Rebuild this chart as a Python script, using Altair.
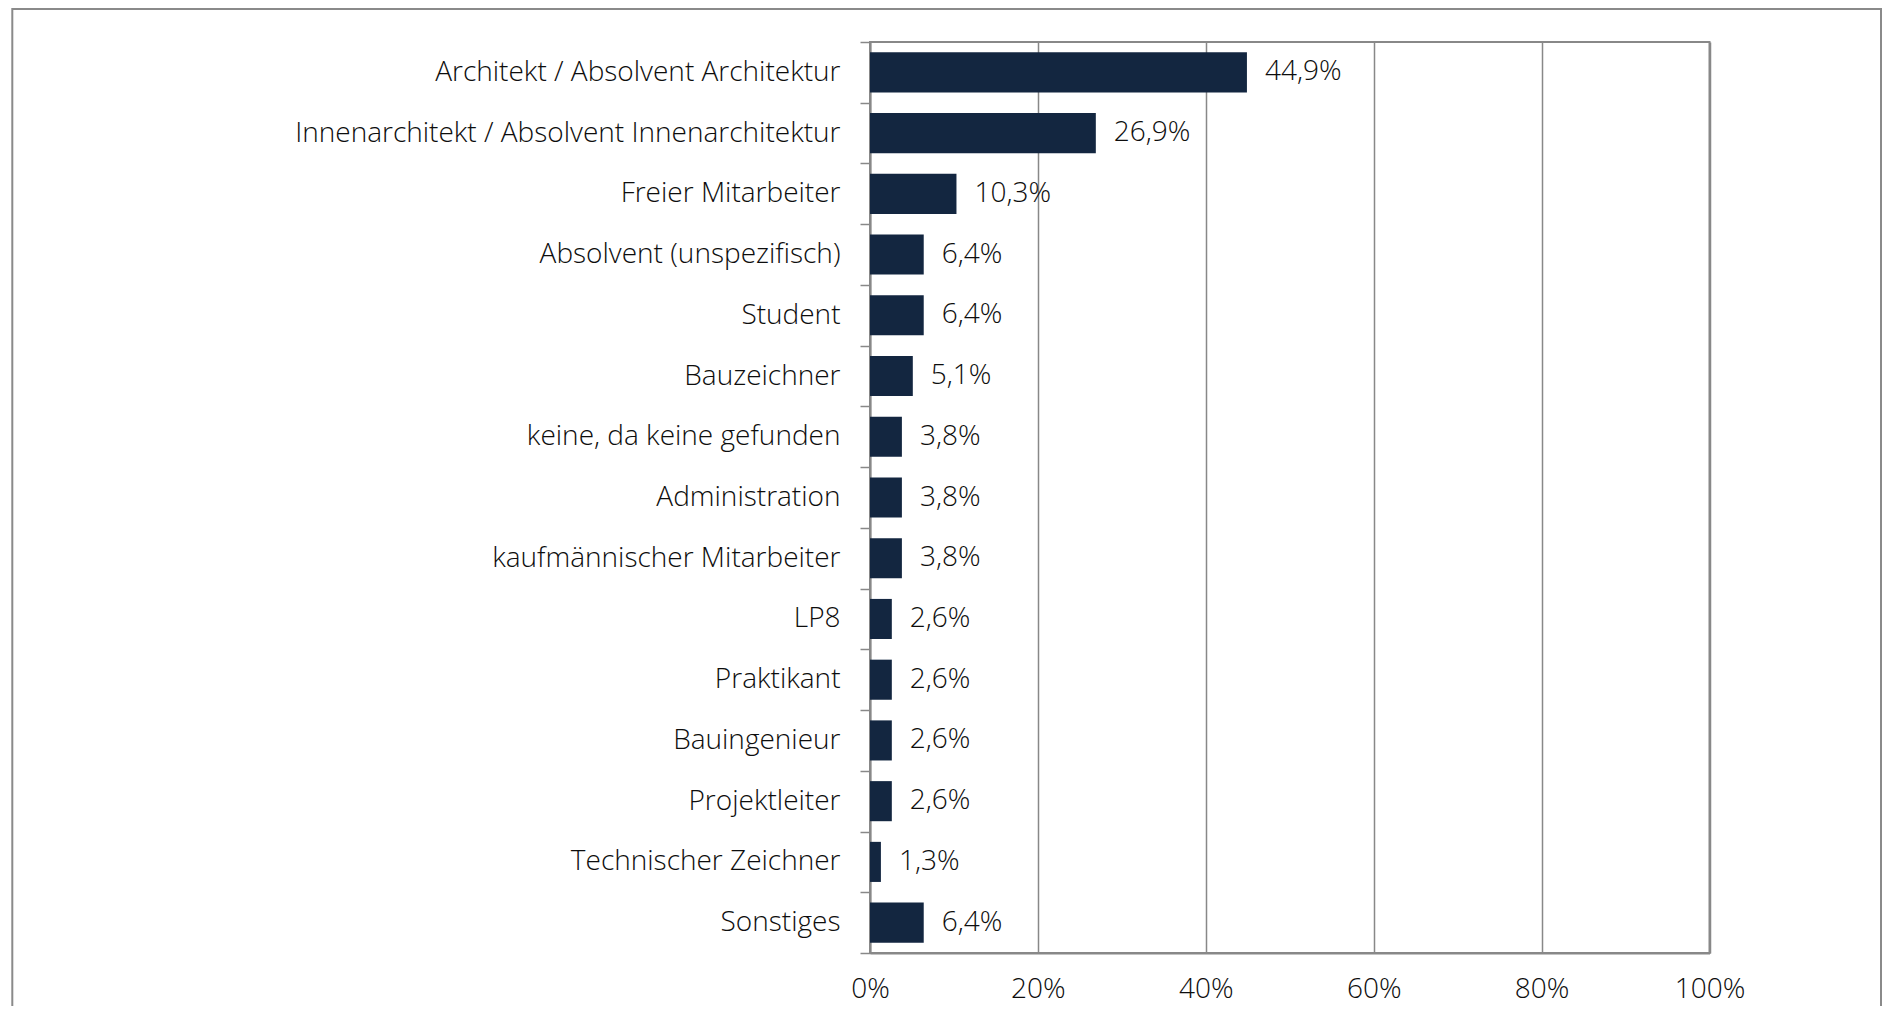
import altair as alt
import pandas as pd

categories = [
    "Architekt / Absolvent Architektur",
    "Innenarchitekt / Absolvent Innenarchitektur",
    "Freier Mitarbeiter",
    "Absolvent (unspezifisch)",
    "Student",
    "Bauzeichner",
    "keine, da keine gefunden",
    "Administration",
    "kaufmännischer Mitarbeiter",
    "LP8",
    "Praktikant",
    "Bauingenieur",
    "Projektleiter",
    "Technischer Zeichner",
    "Sonstiges",
]
values = [44.9, 26.9, 10.3, 6.4, 6.4, 5.1, 3.8, 3.8, 3.8, 2.6, 2.6, 2.6, 2.6, 1.3, 6.4]
x_ticks = [0, 20, 40, 60, 80, 100]

df = pd.DataFrame({"Kategorie": categories, "Wert": values})
df["Label"] = [f"{v:.1f}".replace(".", ",") + "%" for v in values]

FONT = "Open Sans"
WEIGHT = 300
FS = 28
GRAY = "#888888"
TEXT = "#0d0d0d"
BAR = "#132640"

y_enc = alt.Y(
    "Kategorie:N",
    sort=categories,
    scale=alt.Scale(paddingInner=0, paddingOuter=0),
    axis=alt.Axis(
        title=None,
        tickBand="extent",
        ticks=True,
        tickSize=10,
        tickColor=GRAY,
        tickWidth=1.5,
        domainColor=GRAY,
        domainWidth=2,
        grid=False,
        labelFont=FONT,
        labelFontWeight=WEIGHT,
        labelFontSize=FS,
        labelColor=TEXT,
        labelPadding=20,
        labelLimit=800,
        labelOverlap=False,
    ),
)

x_enc = alt.X(
    "Wert:Q",
    scale=alt.Scale(domain=[0, 100], nice=False),
    axis=alt.Axis(
        title=None,
        values=x_ticks,
        labelExpr="datum.value + '%'",
        ticks=False,
        grid=True,
        gridColor=GRAY,
        gridWidth=1.5,
        domainColor=GRAY,
        domainWidth=2,
        labelFont=FONT,
        labelFontWeight=WEIGHT,
        labelFontSize=FS,
        labelColor=TEXT,
        labelPadding=22,
        labelFlush=False,
        labelOverlap=False,
    ),
)

base = alt.Chart(df)

bars = base.mark_bar(color=BAR, height={"band": 0.66}).encode(x=x_enc, y=y_enc)

labels = base.mark_text(
    align="left", baseline="middle", dx=18, font=FONT, fontWeight=WEIGHT,
    fontSize=FS, color=TEXT
).encode(x="Wert:Q", y=alt.Y("Kategorie:N", sort=categories), text="Label:N")

frame = alt.Chart(pd.DataFrame({"f": [0]})).mark_rect(
    filled=False, stroke="#8a8a8a", strokeWidth=2
).encode(
    x=alt.value(-857.7),
    x2=alt.value(1011),
    y=alt.value(-33),
    y2=alt.value(990),
)

chart = (
    alt.layer(frame, bars, labels)
    .properties(
        width=839.5,
        height=911,
        padding={"left": 862, "top": 34, "right": 172.5, "bottom": 53},
        autosize=alt.AutoSizeParams(type="none"),
    )
    .configure_view(stroke=GRAY, strokeWidth=2)
)

chart.save("out.html", embed_options={"renderer": "svg", "actions": False})
